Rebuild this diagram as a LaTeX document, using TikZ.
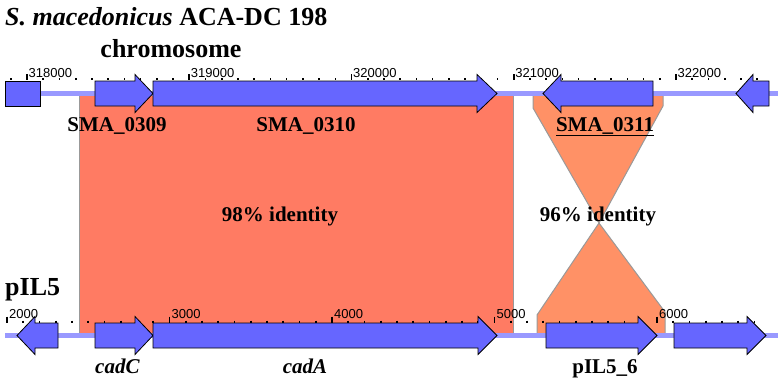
\documentclass[tikz,border=0pt]{standalone}
\usepackage{fontspec}
\setmainfont{Liberation Serif}
\setsansfont{Liberation Sans}
\definecolor{genefill}{HTML}{6666FF}
\definecolor{backbonecol}{HTML}{9999FF}
\definecolor{hitA}{HTML}{FF7B63}
\definecolor{hitB}{HTML}{FF9166}
\tikzstyle{gene}=[draw=black, fill=genefill, line width=0.8pt, line join=miter]
\tikzstyle{backbone}=[draw=backbonecol, line width=5pt]
\tikzstyle{hit}=[draw=gray!80, line width=1pt]
\tikzstyle{minortick}=[draw=black, line width=1.6pt]
\tikzstyle{majortick}=[draw=black, line width=1.6pt]
\tikzstyle{ticklabel}=[font=\sffamily\fontsize{13}{15}\selectfont, anchor=base west, inner sep=0pt]
\tikzstyle{genelabel}=[font=\fontsize{21}{24}\selectfont\bfseries, anchor=base, inner sep=0pt]
\tikzstyle{title}=[font=\fontsize{26}{30}\selectfont\bfseries, inner sep=0pt]

\begin{document}
\begin{tikzpicture}[x=1pt, y=-1pt]
    \useasboundingbox (0,0) rectangle (782,383);

    % blocks of identity between the two tracks
    \path[hit, fill=hitA] (79,94) rectangle (513,335);
    \path[hit, fill=hitB] (533,94) -- (663,94) -- (663,106) -- (599,223)
        -- (665,312) -- (665,335) -- (537,335) -- (537,315) -- (599,223)
        -- (533,108) -- cycle;

    % backbones
    \path[backbone] (5,93.5) -- (778,93.5);
    \path[backbone] (5,335.5) -- (778,335.5);

    % scale ticks, chromosome and plasmid
    \foreach \i in {0,...,46}
        \path[minortick] ({10.8+16.225*\i},78) -- ++(0,2.2);
    \foreach \x/\lab in {27/318000, 189.25/319000, 351.5/320000, 513.75/321000, 676/322000} {
        \path[majortick] (\x,74) -- (\x,80.2);
        \node[ticklabel] (t\lab) at (\x+1.5,77) {\lab};
    }
    \foreach \i in {0,...,46}
        \path[minortick] ({7+16.25*\i},320.5) -- ++(0,2.2);
    \foreach \x/\lab in {7/2000, 169.5/3000, 332/4000, 494.5/5000, 657/6000} {
        \path[majortick] (\x,316.5) -- (\x,322.7);
        \node[ticklabel] (t\lab) at (\x+2,318) {\lab};
    }

    % genes: start/neck/tip/track
    \path[gene] (5,81) rectangle (40,106);
    \foreach \a/\b/\c/\y in {95/135/153/93.5, 153/477/497/93.5,
                             95/135/153/335.5, 153/478/497/335.5,
                             546/638/657/335.5, 674/747/766/335.5}
        \path[gene] (\a,{\y-12.5}) -- (\b,{\y-12.5}) -- (\b,{\y-19}) -- (\c,\y)
            -- (\b,{\y+19}) -- (\b,{\y+12.5}) -- (\a,{\y+12.5}) -- cycle;
    \foreach \a/\b/\c/\y in {543/561/653/93.5, 736/753/769/93.5, 17/35/58/335.5}
        \path[gene] (\c,{\y-12.5}) -- (\b,{\y-12.5}) -- (\b,{\y-19}) -- (\a,\y)
            -- (\b,{\y+19}) -- (\b,{\y+12.5}) -- (\c,{\y+12.5}) -- cycle;

    % titles
    \node[title, anchor=base west] (species) at (5,25) {\textit{S. macedonicus} ACA-DC 198};
    \node[title, anchor=base] (chrom) at (171,57) {chromosome};
    \node[title, anchor=base west] (plasmid) at (5,295) {pIL5};

    % gene names
    \node[genelabel] (SMA0309) at (117,131) {SMA\_0309};
    \node[genelabel] (SMA0310) at (306,131) {SMA\_0310};
    \node[genelabel] (SMA0311) at (605,131) {\underline{SMA\_0311}};
    \node[genelabel] (cadC) at (117.5,373) {\textit{cadC}};
    \node[genelabel] (cadA) at (305,373) {\textit{cadA}};
    \node[genelabel] (pIL56) at (605,373) {pIL5\_6};

    % identity values
    \node[genelabel] (id98) at (280,221) {98\% identity};
    \node[genelabel] (id96) at (598,221) {96\% identity};

\end{tikzpicture}
\end{document}
